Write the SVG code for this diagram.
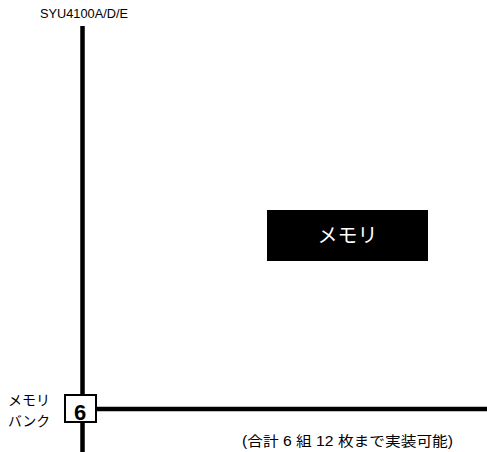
<svg xmlns="http://www.w3.org/2000/svg" width="487" height="452" viewBox="0 0 487 452">
<style>
.t{font-family:"Liberation Sans","Noto Sans CJK JP",sans-serif;fill:#000}
.w{font-family:"Liberation Sans","Noto Sans CJK JP",sans-serif;fill:#fff}
.ln{stroke:#000;stroke-width:4.5;fill:none}
</style>
<rect width="487" height="452" fill="#fff"/>
<g id="connectors">
<line class="ln" x1="82.5" y1="26" x2="82.5" y2="395"/>
<line class="ln" x1="82.5" y1="423" x2="82.5" y2="452"/>
<line class="ln" x1="97" y1="409" x2="487" y2="409"/>
</g>
<g id="title">
<text class="t" x="40" y="18" font-size="12.5" textLength="88" lengthAdjust="spacingAndGlyphs">SYU4100A/D/E</text>
</g>
<g id="memory">
<rect x="267" y="210" width="161" height="51" fill="#000"/>
<text class="w" x="347.5" y="243" font-size="20" text-anchor="middle">メモリ</text>
</g>
<g id="bank">
<text class="t" x="8" y="405" font-size="14" textLength="42" lengthAdjust="spacingAndGlyphs">メモリ</text>
<text class="t" x="8" y="426" font-size="14" textLength="42" lengthAdjust="spacingAndGlyphs">バンク</text>
<rect x="65" y="395" width="31" height="27" fill="#fff" stroke="#000" stroke-width="2"/>
<text class="t" x="80" y="420" font-size="22" font-weight="bold" text-anchor="middle">6</text>
</g>
<g id="note">
<text class="t" x="242" y="446" font-size="14" textLength="211" lengthAdjust="spacingAndGlyphs">(合計 6 組 12 枚まで実装可能)</text>
</g>
</svg>
